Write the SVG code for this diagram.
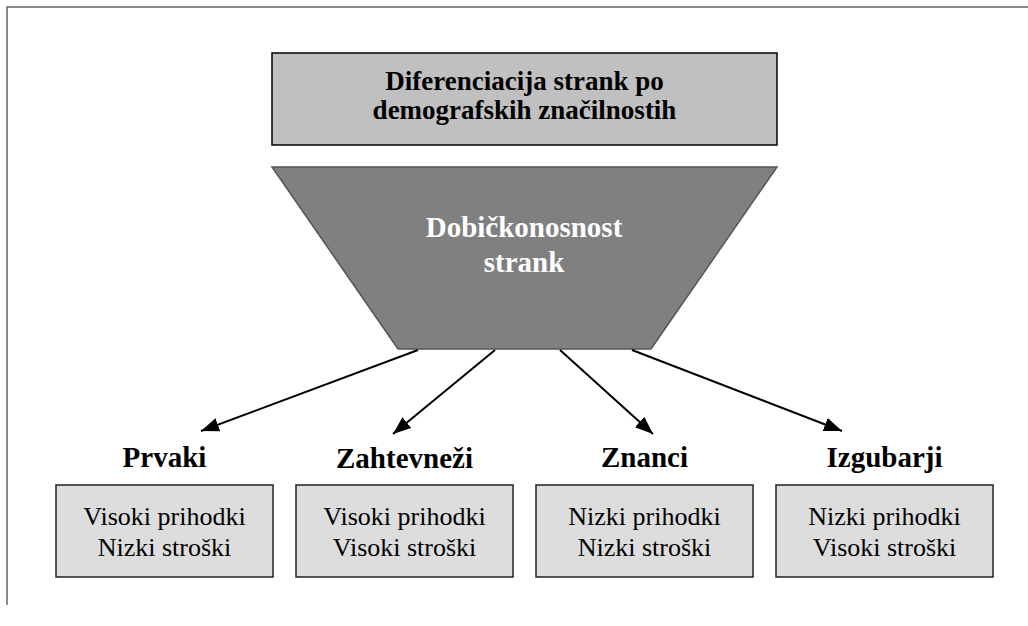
<svg xmlns="http://www.w3.org/2000/svg" width="1028" height="626" viewBox="0 0 1028 626" font-family="'Liberation Serif', 'Times New Roman', 'DejaVu Serif', serif">
  <defs>
    <marker id="arrow" markerUnits="userSpaceOnUse" markerWidth="20" markerHeight="16" refX="18" refY="7" orient="auto">
      <path d="M0,0 L18,7 L0,14 z" fill="#000"/>
    </marker>
    <style>
      text { font-family: 'Liberation Serif', 'Times New Roman', 'DejaVu Serif', serif; }
      .bold { font-weight: bold; text-anchor: middle; }
      .reg { font-size: 26px; text-anchor: middle; fill: #000; }
      .lbl { font-size: 29px; fill: #000; }
      .item { fill: #dddddd; stroke: #222; stroke-width: 1.5; }
      .conn { stroke: #000; stroke-width: 2; fill: none; marker-end: url(#arrow); }
    </style>
  </defs>
  <rect width="1028" height="626" fill="#fff"/>
  <g id="frame">
    <path d="M7,605 L7,7 L1028,7" fill="none" stroke="#666" stroke-width="1.5"/>
  </g>
  <g id="header">
    <rect x="272" y="53" width="505" height="92" fill="#c0c0c0" stroke="#000" stroke-width="1.5"/>
    <text class="bold" x="524.5" y="90" font-size="27">Diferenciacija strank po</text>
    <text class="bold" x="524.5" y="119" font-size="27">demografskih značilnostih</text>
  </g>
  <g id="funnel">
    <polygon points="272,167 777,167 651,349 398,349" fill="#808080" stroke="#555" stroke-width="1.5"/>
    <text class="bold" x="524" y="237" font-size="29" fill="#fff">Dobičkonosnost</text>
    <text class="bold" x="524" y="272" font-size="29" fill="#fff">strank</text>
  </g>
  <g id="connectors">
    <line class="conn" x1="418" y1="350" x2="201" y2="431"/>
    <line class="conn" x1="495" y1="350" x2="393" y2="434"/>
    <line class="conn" x1="560" y1="350" x2="653" y2="434"/>
    <line class="conn" x1="632" y1="350" x2="842" y2="431"/>
  </g>
  <g id="prvaki">
    <text class="bold lbl" x="164.5" y="467">Prvaki</text>
    <rect class="item" x="56" y="485" width="217" height="92"/>
    <text class="reg" x="164.5" y="525">Visoki prihodki</text>
    <text class="reg" x="164.5" y="556">Nizki stroški</text>
  </g>
  <g id="zahtevnezi">
    <text class="bold lbl" x="404.5" y="468">Zahtevneži</text>
    <rect class="item" x="296" y="485" width="217" height="92"/>
    <text class="reg" x="404.5" y="525">Visoki prihodki</text>
    <text class="reg" x="404.5" y="556">Visoki stroški</text>
  </g>
  <g id="znanci">
    <text class="bold lbl" x="644.5" y="467">Znanci</text>
    <rect class="item" x="536" y="485" width="217" height="92"/>
    <text class="reg" x="644.5" y="525">Nizki prihodki</text>
    <text class="reg" x="644.5" y="556">Nizki stroški</text>
  </g>
  <g id="izgubarji">
    <text class="bold lbl" x="884.5" y="467">Izgubarji</text>
    <rect class="item" x="776" y="485" width="217" height="92"/>
    <text class="reg" x="884.5" y="525">Nizki prihodki</text>
    <text class="reg" x="884.5" y="556">Visoki stroški</text>
  </g>
</svg>
